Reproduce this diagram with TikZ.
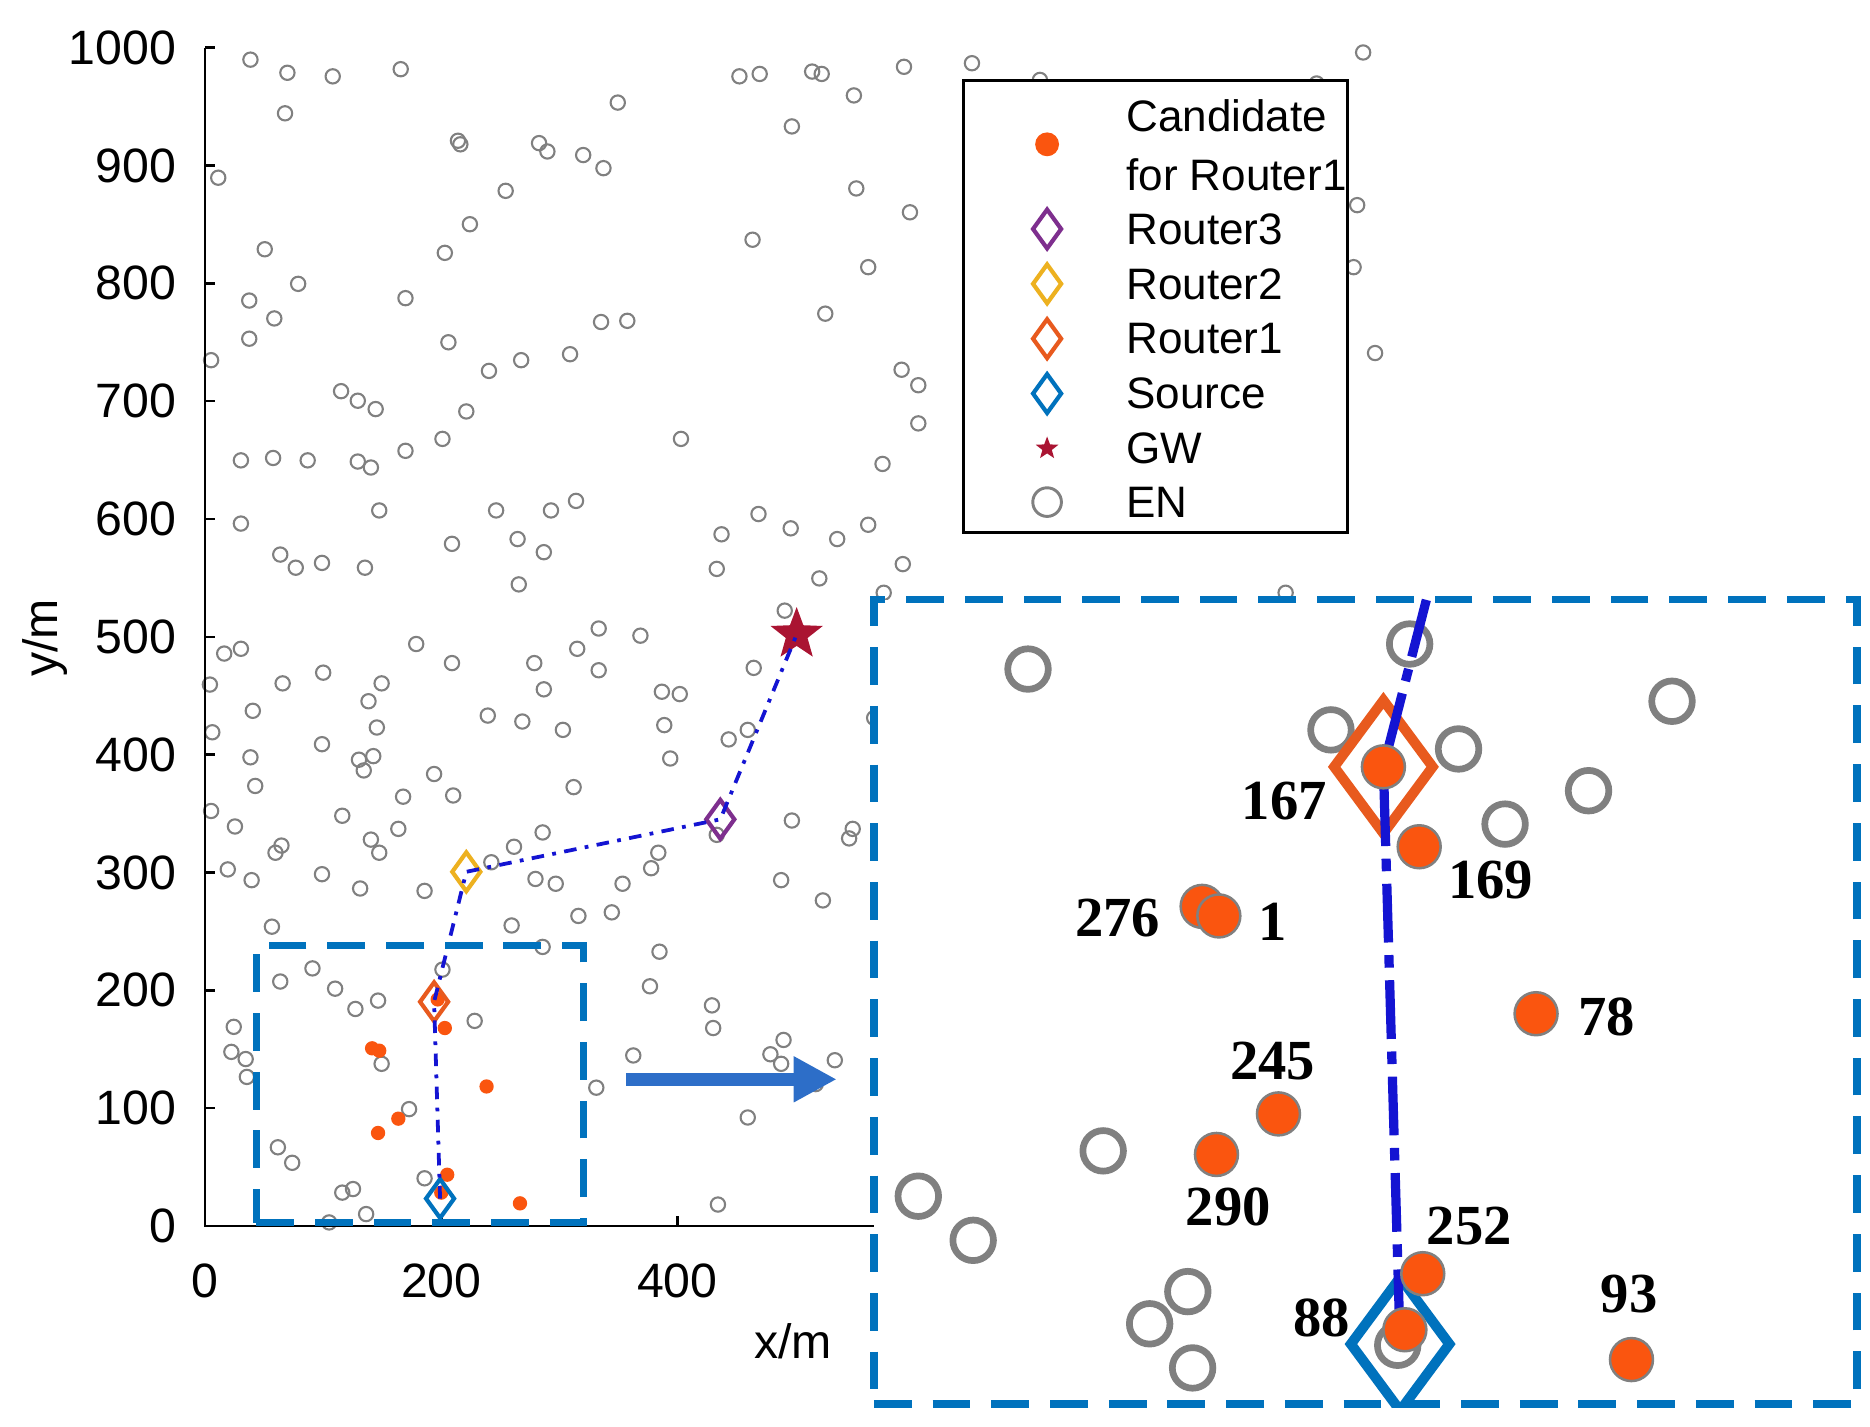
\documentclass[tikz,border=0pt]{standalone}
\usepackage{fontspec}
\setmainfont{Liberation Sans}
\newfontfamily\numfont{Liberation Serif}
\usetikzlibrary{shapes.geometric,arrows.meta}
\definecolor{candorange}{RGB}{250,85,15}
\definecolor{rthree}{RGB}{126,47,142}
\definecolor{rtwo}{RGB}{237,177,32}
\definecolor{rone}{RGB}{232,90,30}
\definecolor{srcblue}{RGB}{0,114,189}
\definecolor{gwred}{RGB}{170,20,50}
\definecolor{pathblue}{RGB}{20,20,210}
\definecolor{arrowblue}{RGB}{45,110,200}
\tikzset{
  en/.style={draw=gray, line width=0.5pt, circle, inner sep=0pt, minimum size=0.12cm},
  bigen/.style={draw=gray, line width=1.6pt, circle, inner sep=0pt, minimum size=0.34cm},
  cand/.style={fill=candorange, circle, inner sep=0pt, minimum size=0.12cm},
  bigcand/.style={fill=candorange, draw=gray, line width=0.6pt, circle, inner sep=0pt, minimum size=0.36cm},
  rtr/.style={draw=#1, line width=1pt, diamond, inner sep=0pt, minimum width=0.25cm, minimum height=0.34cm},
  bigrtr/.style={draw=#1, line width=2.4pt, diamond, inner sep=0pt, minimum width=0.86cm, minimum height=1.15cm},
  gw/.style={fill=gwred, star, star points=5, star point ratio=2.4, inner sep=0pt, minimum size=#1},
  num/.style={font=\numfont\fontsize{13.5}{16}\selectfont\bfseries},
  tick/.style={font=\fontsize{11.5}{13}\selectfont},
  leg/.style={font=\fontsize{10.5}{13}\selectfont},
  hop/.style={pathblue, line width=0.9pt, dash dot},
  bighop/.style={pathblue, line width=2.2pt, dash pattern=on 14pt off 3pt on 3pt off 3pt},
  zoombox/.style={srcblue, line width=1.8pt, dash pattern=on 9pt off 5pt},
}
\begin{document}
\begin{tikzpicture}[x=0.01cm, y=-0.01cm]
        \useasboundingbox (0,0) rectangle (1568,1196);
        % Scattered end nodes
        \foreach \px/\py in {210/50,241/61,279/64,336/58,239/95,183/149,222/209,209/252,230/267,250/238,
          209/284,177/302,286/328,300/336,315/343,340/250,373/212,394/188,424/160,384/118,386/121,452/120,
          459/127,489/130,506/141,518/86,620/64,637/62,664/106,681/60,689/62,716/80,718/158,758/56,815/53,
          872/67,763/178,631/201,728/224,692/263,526/269,504/270,376/287,437/302,478/297,410/311,756/310,
          770/323,770/355,740/389,571/368,636/431,391/345,229/384,202/386,258/386,300/387,311/392,340/378,
          371/368,202/439,235/465,248/476,270/472,306/476,318/428,416/428,462/428,434/452,456/463,483/420,
          663/443,702/452,728/440,757/473,741/497,605/448,379/456,202/544,237/573,271/564,309/588,316/610,
          320/573,349/540,379/556,456/578,448/556,484/544,502/527,570/582,601/477,687/485,435/490,
          176/574,188/548,212/596,270/624,301/637,305/646,313/634,214/659,197/693,236/709,270/733,302/745,
          318/715,338/668,364/649,380/667,431/710,455/698,472/612,481/660,557/608,502/562,537/533,
          178/614,210/635,177/680,191/729,231/715,287/684,311/704,334/695,409/600,438/605,555/580,
          211/738,228/777,235/823,262/812,298/846,317/839,398/856,371/813,356/747,412/723,449/737,
          429/776,455/794,466/741,485/768,513/765,553/798,545/827,597/843,598/862,531/885,500/912,
          657/872,646/884,655/892,627/937,684/909,700/889,602/1010,356/988,343/930,287/1000,296/997,
          307/1018,276/1025,233/962,245/975,194/882,207/903,196/861,206/888,281/829,320/892,
          522/741,546/728,552/715,658/512,632/560,562/636,601/700,611/620,627/612,664/688,655/738,
          690/755,712/703,715/695,733/602,745/537,757/582,762/655,793/536,823/563,855/566,1078/497,
          1153/296,1135/224,1138/172,1104/70,1143/44,1096/75}
          \node[en] at (\px,\py) {};
        % Candidates
        \foreach \px/\py in {312/879,318/881,373/862,408/911,334/938,317/950,375/985,370/1000,436/1009,367/838}
          \node[cand] at (\px,\py) {};
        % Axes
        \draw[line width=0.6pt] (172,40) -- (172,1028) -- (733,1028);
        \foreach \v in {0,1,...,10} {
          \draw[line width=0.6pt] (172,1028-98.8*\v) -- ++(8,0);
          \pgfmathtruncatemacro{\lab}{100*\v}
          \node[tick, anchor=east] at (160,1028-98.8*\v) {\lab};
        }
        \foreach \v in {0,1,2} {
          \draw[line width=0.6pt] (172+198*\v,1028) -- ++(0,-8);
          \pgfmathtruncatemacro{\lab}{200*\v}
          \node[tick, anchor=north] at (172+198*\v,1047) {\lab};
        }
        \node[tick] (xlab) at (665,1125) {x/m};
        \node[tick, rotate=90] (ylab) at (38,535) {y/m};
        % Route
        \node[rtr=srcblue] (src) at (369,1005) {};
        \node[rtr=rone] (r1) at (364,840) {};
        \node[rtr=rtwo] (r2) at (391,731) {};
        \node[rtr=rthree] (r3) at (604,687) {};
        \node[gw=0.46cm] (gate) at (668,532) {};
        \draw[hop] (src.center) -- (r1.center) -- (r2.center) -- (r3.center) -- (gate.center);
        % Zoom box and arrow
        \node[draw, zoombox, minimum width=2.74cm, minimum height=2.32cm, inner sep=0pt] (small) at (352,909) {};
        \node[draw, zoombox, minimum width=8.24cm, minimum height=6.74cm, inner sep=0pt, fill=white] (inset) at (1145,840) {};
        \draw[-{Triangle[length=0.36cm,width=0.36cm]}, arrowblue, line width=3pt] (small.east |- 0,905) ++(33,0) coordinate (a0) -- ([xshift=-0.28cm]inset.west |- 0,905);
        % Inset contents
        \begin{scope}
          \clip (inset.south west) rectangle (inset.north east);
          \foreach \px/\py in {862/561,1182/540,1116/612,1223/628,1262/691,1332/663,1402/588,925/965,
            770/1003,816/1040,996/1083,964/1110,1000/1147,1172/1128}
            \node[bigen] at (\px,\py) {};
          \coordinate (top) at (1196,503);
          \node[bigrtr=rone] (br1) at (1160,643) {};
          \node[bigrtr=srcblue] (bsrc) at (1174,1127) {};
          \draw[bighop] (top) -- (br1.center) -- (bsrc.center);
        \end{scope}
        \node[bigcand] (c167) at (1160,643) {};
        \node[bigcand] (c169) at (1190,710) {};
        \node[bigcand] (c276) at (1008,760) {};
        \node[bigcand] (c1) at (1022,768) {};
        \node[bigcand] (c78) at (1288,850) {};
        \node[bigcand] (c245) at (1072,934) {};
        \node[bigcand] (c290) at (1020,968) {};
        \node[bigcand] (c252) at (1193,1068) {};
        \node[bigcand] (c88) at (1178,1115) {};
        \node[bigcand] (c93) at (1368,1140) {};
        \node[num] at (1077,672) {167};
        \node[num] at (1250,738) {169};
        \node[num] at (937,770) {276};
        \node[num] at (1067,773) {1};
        \node[num] at (1347,853) {78};
        \node[num] at (1067,890) {245};
        \node[num] at (1030,1012) {290};
        \node[num] at (1232,1028) {252};
        \node[num] at (1108,1105) {88};
        \node[num] at (1366,1085) {93};
        % Legend
        \node[draw, fill=white, line width=0.7pt, minimum width=3.22cm, minimum height=3.79cm, inner sep=0pt] (legend) at (969,257) {};
        \node[fill=candorange, circle, inner sep=0pt, minimum size=0.2cm] (lc) at (878,121) {};
        \node[leg, anchor=west, align=left] at (932,122) {Candidate\\[1pt]for Router1};
        \node[rtr=rthree] (l3) at (878,192) {};
        \node[leg, anchor=west] at (932,192) {Router3};
        \node[rtr=rtwo] (l2) at (878,238) {};
        \node[leg, anchor=west] at (932,238) {Router2};
        \node[rtr=rone] (l1) at (878,284) {};
        \node[leg, anchor=west] at (932,284) {Router1};
        \node[rtr=srcblue] (ls) at (878,330) {};
        \node[leg, anchor=west] at (932,330) {Source};
        \node[gw=0.2cm] (lg) at (878,376) {};
        \node[leg, anchor=west] at (932,376) {GW};
        \node[draw=gray, line width=0.7pt, circle, inner sep=0pt, minimum size=0.24cm] (le) at (878,421) {};
        \node[leg, anchor=west] at (932,421) {EN};
\end{tikzpicture}
\end{document}
